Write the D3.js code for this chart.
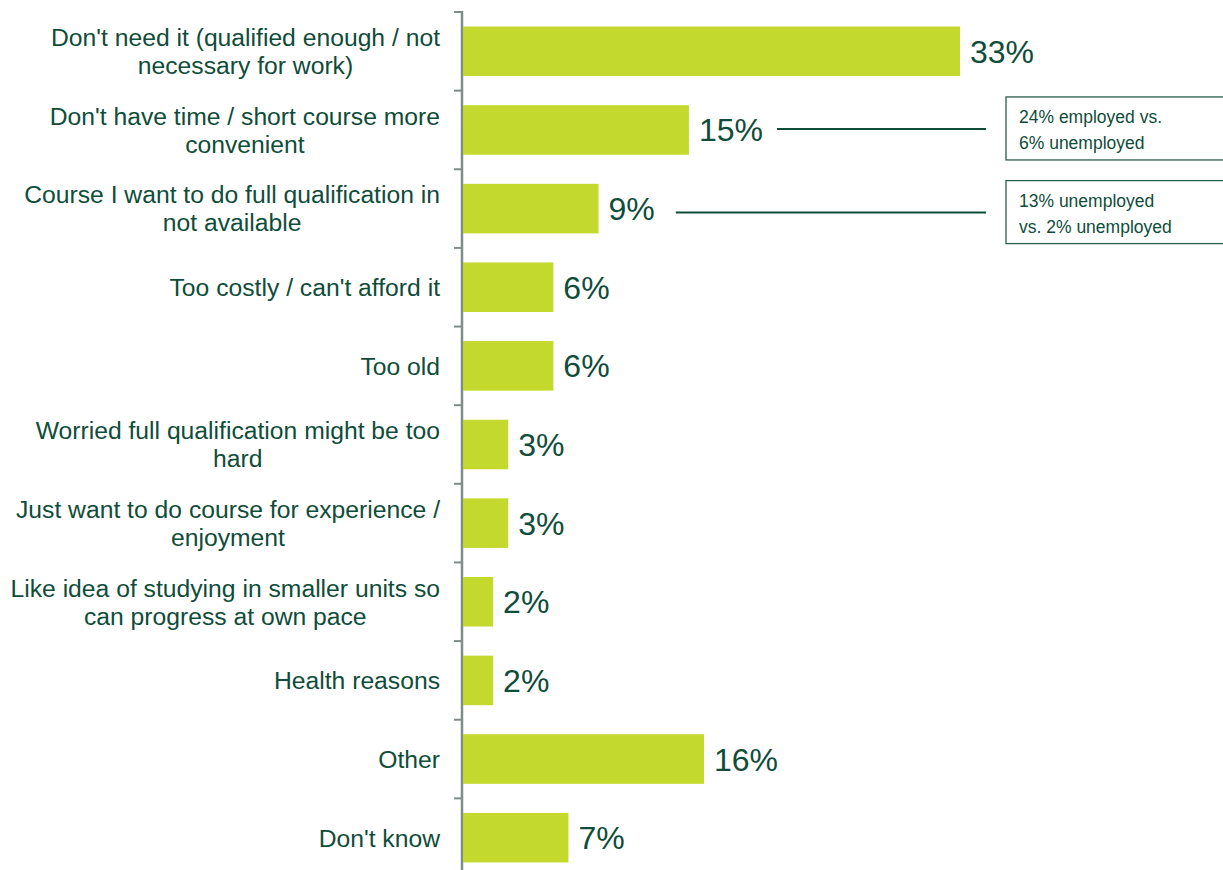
<!DOCTYPE html>
<html>
<head>
<meta charset="utf-8">
<script src="https://cdn.jsdelivr.net/npm/d3@7"></script>
<style>
  html, body { margin: 0; padding: 0; background: #ffffff; }
  svg { display: block; font-family: "Liberation Sans", Arial, sans-serif; }
</style>
</head>
<body>
<svg id="chart" width="1223" height="870"></svg>
<script>
// Reasons for not doing a full qualification (share of respondents, %)
const categories = [
  "Don't need it (qualified enough / not necessary for work)",
  "Don't have time / short course more convenient",
  "Course I want to do full qualification in not available",
  "Too costly / can't afford it",
  "Too old",
  "Worried full qualification might be too hard",
  "Just want to do course for experience / enjoyment",
  "Like idea of studying in smaller units so can progress at own pace",
  "Health reasons",
  "Other",
  "Don't know"
];
// Wrapped label lines, one entry per category
const labelLines = [
  ["Don't need it (qualified enough / not", "necessary for work)"],
  ["Don't have time / short course more", "convenient"],
  ["Course I want to do full qualification in", "not available"],
  ["Too costly / can't afford it"],
  ["Too old"],
  ["Worried full qualification might be too", "hard"],
  ["Just want to do course for experience /", "enjoyment"],
  ["Like idea of studying in smaller units so", "can progress at own pace"],
  ["Health reasons"],
  ["Other"],
  ["Don't know"]
];
const values = [33, 15, 9, 6, 6, 3, 3, 2, 2, 16, 7];

// Callout notes attached to specific bars
const noteCategories = [categories[1], categories[2]];
const noteLines = [
  ["24% employed vs.", "6% unemployed"],
  ["13% unemployed", "vs. 2% unemployed"]
];

const barColor = "#c3d92e";
const textColor = "#0f4c3a";
const axisColor = "#7f8c8a";

const svg = d3.select("#chart");

const y = d3.scaleBand()
  .domain(categories)
  .range([12, 877])
  .paddingInner(0.37)
  .paddingOuter(0.185);

const x = d3.scaleLinear()
  .domain([0, 33])
  .range([463, 960]);

const step = y.step();
const gap = step - y.bandwidth();
const boundaries = categories.map(c => y(c) - gap / 2).concat([y(categories[categories.length - 1]) + y.bandwidth() + gap / 2]);

// Category axis: vertical line with ticks between categories
const axisX = 462;
const axis = svg.append("g");
axis.append("line")
  .attr("x1", axisX).attr("x2", axisX)
  .attr("y1", boundaries[0] - 1).attr("y2", boundaries[boundaries.length - 1])
  .attr("stroke", axisColor).attr("stroke-width", 2.5);
axis.selectAll("line.tick")
  .data(boundaries)
  .join("line")
  .attr("class", "tick")
  .attr("x1", axisX - 8).attr("x2", axisX)
  .attr("y1", d => d).attr("y2", d => d)
  .attr("stroke", axisColor).attr("stroke-width", 2);

// Bars
svg.append("g").selectAll("rect")
  .data(categories)
  .join("rect")
  .attr("x", x(0))
  .attr("y", d => y(d))
  .attr("width", (d, i) => x(values[i]) - x(0))
  .attr("height", y.bandwidth())
  .attr("fill", barColor);

// Value labels
const valueLabels = svg.append("g").selectAll("text")
  .data(categories)
  .join("text")
  .attr("x", (d, i) => x(values[i]) + 10)
  .attr("y", d => y(d) + y.bandwidth() / 2)
  .attr("dy", "0.36em")
  .attr("fill", textColor)
  .attr("font-size", 32)
  .text((d, i) => values[i] + "%");

// Category labels
const labelRight = 440;
const lineH = 28;
const labelSize = 24.7;
const labels = svg.append("g");
categories.forEach((c, i) => {
  const lines = labelLines[i];
  const cy = y(c) + y.bandwidth() / 2;
  const firstY = cy - (lines.length - 1) * lineH / 2;
  const t0 = labels.append("text")
    .attr("x", labelRight)
    .attr("y", firstY)
    .attr("dy", "0.36em")
    .attr("text-anchor", "end")
    .attr("fill", textColor)
    .attr("font-size", labelSize)
    .text(lines[0]);
  if (lines.length > 1) {
    const w = t0.node().getComputedTextLength();
    labels.append("text")
      .attr("x", labelRight - w / 2)
      .attr("y", firstY + lineH)
      .attr("dy", "0.36em")
      .attr("text-anchor", "middle")
      .attr("fill", textColor)
      .attr("font-size", labelSize)
      .text(lines[1]);
  }
});

// Callouts: leader line from the value label to a boxed note
const boxX = 1006, boxW = 220, boxH = 63;
const leaderGap = [14, 21];
const notes = svg.append("g");
noteCategories.forEach((c, k) => {
  const i = categories.indexOf(c);
  const cy = y(c) + y.bandwidth() / 2;
  const labelNode = valueLabels.nodes()[i];
  const lx = x(values[i]) + 10 + labelNode.getComputedTextLength() + leaderGap[k];
  const ly = cy + (k === 0 ? -1 : 4);
  notes.append("line")
    .attr("x1", lx).attr("x2", boxX - 20)
    .attr("y1", ly).attr("y2", ly)
    .attr("stroke", textColor).attr("stroke-width", 2);
  const by = ly - boxH / 2 - 0.5;
  notes.append("rect")
    .attr("x", boxX).attr("y", by)
    .attr("width", boxW).attr("height", boxH)
    .attr("fill", "#ffffff")
    .attr("stroke", "#2a5e4c").attr("stroke-width", 1.3);
  noteLines[k].forEach((s, j) => {
    notes.append("text")
      .attr("x", boxX + 13)
      .attr("y", by + 26 + j * 26)
      .attr("fill", textColor)
      .attr("font-size", 17.5)
      .text(s);
  });
});
</script>
</body>
</html>
